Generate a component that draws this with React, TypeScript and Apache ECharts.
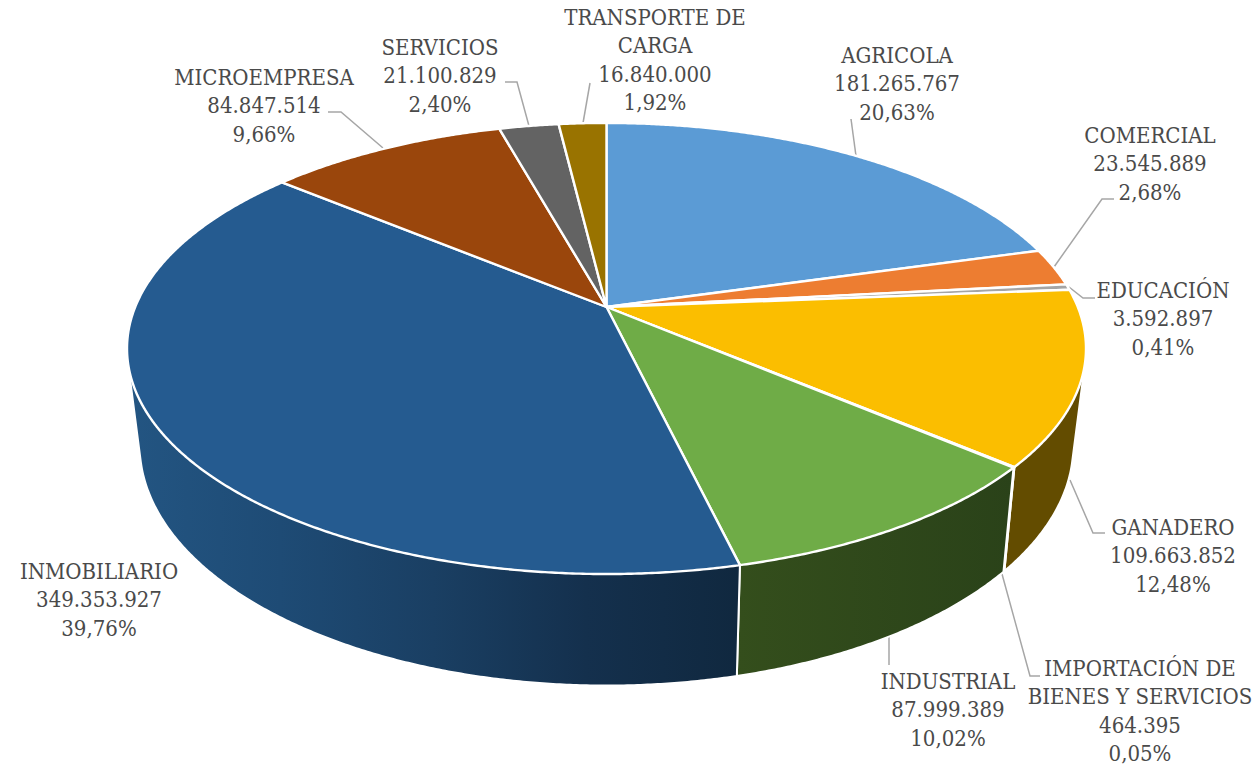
import React, { useEffect, useRef } from "react";
import * as echarts from "echarts";

// Data, clockwise from 12 o'clock
const categories = ["AGRICOLA", "COMERCIAL", "EDUCACIÓN", "GANADERO", "IMPORTACIÓN DE BIENES Y SERVICIOS", "INDUSTRIAL", "INMOBILIARIO", "MICROEMPRESA", "SERVICIOS", "TRANSPORTE DE CARGA"];
const values = [181265767, 23545889, 3592897, 109663852, 464395, 87999389, 349353927, 84847514, 21100829, 16840000];
const valueLabels = ["181.265.767", "23.545.889", "3.592.897", "109.663.852", "464.395", "87.999.389", "349.353.927", "84.847.514", "21.100.829", "16.840.000"];
const percentLabels = ["20,63%", "2,68%", "0,41%", "12,48%", "0,05%", "10,02%", "39,76%", "9,66%", "2,40%", "1,92%"];
const nameLines = [["AGRICOLA"], ["COMERCIAL"], ["EDUCACIÓN"], ["GANADERO"], ["IMPORTACIÓN DE", "BIENES Y SERVICIOS"], ["INDUSTRIAL"], ["INMOBILIARIO"], ["MICROEMPRESA"], ["SERVICIOS"], ["TRANSPORTE DE", "CARGA"]];

// Styling
const faceColors = ["#5B9BD5", "#ED7D31", "#A5A5A5", "#FBBE00", "#4472C4", "#6FAC47", "#255B90", "#9A460C", "#636363", "#997300"];
const wallStops: string[][] = [
  ["#375D80", "#375D80"], ["#8A4A1E", "#8A4A1E"], ["#606060", "#606060"], ["#634C00", "#634C00"], ["#1F3560", "#1F3560"],
  ["#344E1C", "#2A4219"], ["#235582", "#1E4B75", "#1A3F63", "#14304D", "#10283F"], ["#5C2A08", "#5C2A08"], ["#3A3A3A", "#3A3A3A"], ["#594300", "#594300"],
];
const labelX = [897, 1150, 1163, 1173, 1140, 948, 99, 264, 440, 655];
const labelY = [55, 135, 290, 527, 668, 681, 571, 77, 47, 17];
const LINE_H = 28.5;
const leaders: number[][][] = [
  [[851, 119], [856, 156]],
  [[1114, 199], [1102, 199], [1054, 267]],
  [[1069, 287], [1083, 298], [1095, 298]],
  [[1070, 480], [1093, 533], [1105, 533]],
  [[1002, 574], [1030, 676], [1040, 676]],
  [[889, 637], [889, 665]],
  [[328, 112], [341, 112], [383, 148]],
  [[505, 82], [517, 82], [529, 126]],
  [[590, 83], [583, 123]],
];

// Perspective planes of the disc (top face and bottom rim)
const topPlane = { cx: 606.5, y0: 307, a: 471.3, b: 217.9, k: -0.184 };
const botPlane = { cx: 606.5, y0: 400.5, a: 458.5, b: 231.6, k: -0.1875 };

const total = values.reduce((s, v) => s + v, 0);
const startAngle = (i: number) => (values.slice(0, i).reduce((s, v) => s + v, 0) / total) * Math.PI * 2;

function project(p: typeof topPlane, t: number): number[] {
  const u = Math.sin(t);
  const v = -Math.cos(t);
  const d = 1 + p.k * v;
  return [p.cx + (p.a * u) / d, p.y0 + (p.b * v) / d];
}

function arc(p: typeof topPlane, t0: number, t1: number): number[][] {
  const n = Math.max(2, Math.ceil((t1 - t0) / 0.006));
  const out: number[][] = [];
  for (let j = 0; j <= n; j++) out.push(project(p, t0 + ((t1 - t0) * j) / n));
  return out;
}

function convexHull(pts: number[][]): number[][] {
  const s = pts.slice().sort((a, b) => a[0] - b[0] || a[1] - b[1]);
  const cross = (o: number[], a: number[], b: number[]) => (a[0] - o[0]) * (b[1] - o[1]) - (a[1] - o[1]) * (b[0] - o[0]);
  const lower: number[][] = [];
  for (const q of s) {
    while (lower.length >= 2 && cross(lower[lower.length - 2], lower[lower.length - 1], q) <= 0) lower.pop();
    lower.push(q);
  }
  const upper: number[][] = [];
  for (let i = s.length - 1; i >= 0; i--) {
    const q = s[i];
    while (upper.length >= 2 && cross(upper[upper.length - 2], upper[upper.length - 1], q) <= 0) upper.pop();
    upper.push(q);
  }
  lower.pop();
  upper.pop();
  return lower.concat(upper);
}

const FONT = '"DejaVu Serif Condensed", "DejaVu Serif", serif';
const FONT_SIZE = 22;
const TEXT_COLOR = "#4A4A4A";

export default function App() {
  const ref = useRef<HTMLDivElement>(null);
  useEffect(() => {
    const chart = echarts.init(ref.current!, undefined, { renderer: "svg" });
    const seriesData = categories.map((name, i) => ({ name, value: [values[i]] }));

    const texts: any[] = [];
    categories.forEach((_, i) => {
      const lines = [...nameLines[i], valueLabels[i], percentLabels[i]];
      lines.forEach((line, j) => {
        texts.push({
          type: "text",
          x: labelX[i],
          y: labelY[i] + j * LINE_H,
          silent: true,
          style: { text: line, fill: TEXT_COLOR, font: `${FONT_SIZE}px ${FONT}`, textAlign: "center", textVerticalAlign: "middle" },
        });
      });
    });
    const lines = leaders.map((pts) => ({
      type: "polyline",
      silent: true,
      shape: { points: pts },
      style: { stroke: "#A6A6A6", lineWidth: 1.5, fill: "none" },
    }));

    chart.setOption({
      animation: false,
      backgroundColor: "#ffffff",
      series: [
        {
          type: "custom",
          coordinateSystem: "none",
          silent: true,
          z: 1,
          data: seriesData,
          renderItem: (params: any) => {
            const i = params.dataIndex;
            const t0 = startAngle(i);
            const t1 = startAngle(i + 1);
            const hull = convexHull(arc(topPlane, t0, t1).concat(arc(botPlane, t0, t1)));
            const stops = wallStops[i];
            return {
              type: "polygon",
              shape: { points: hull },
              style: {
                fill: new echarts.graphic.LinearGradient(0, 0, 1, 0, stops.map((color, j) => ({ offset: j / (stops.length - 1), color }))),
                stroke: "#ffffff",
                lineWidth: 2,
                lineJoin: "round",
              },
            };
          },
        },
        {
          type: "custom",
          coordinateSystem: "none",
          silent: true,
          z: 2,
          data: seriesData,
          renderItem: (params: any) => {
            const i = params.dataIndex;
            const pts = [[topPlane.cx, topPlane.y0], ...arc(topPlane, startAngle(i), startAngle(i + 1))];
            return {
              type: "polygon",
              shape: { points: pts },
              style: { fill: faceColors[i], stroke: "#ffffff", lineWidth: 2.4, lineJoin: "round" },
            };
          },
        },
      ],
      graphic: { elements: [...lines, ...texts] },
    });
    return () => chart.dispose();
  }, []);
  return <div ref={ref} style={{ position: "fixed", left: 0, top: 0, width: 1255, height: 768 }} />;
}
